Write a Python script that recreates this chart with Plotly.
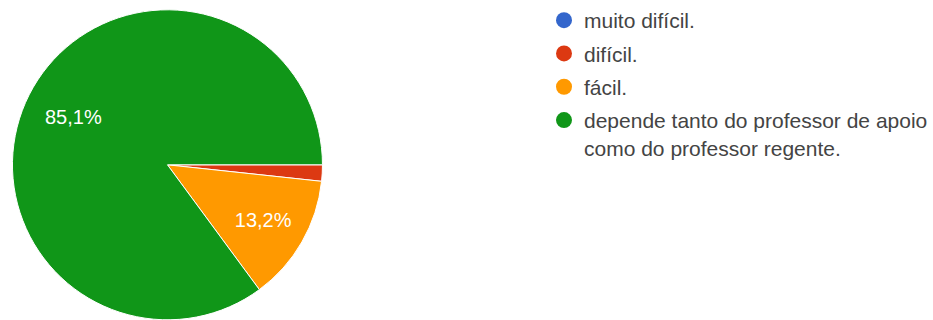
import math
import plotly.graph_objects as go

categories = [
    "muito difícil.",
    "difícil.",
    "fácil.",
    "depende tanto do professor de apoio<br>como do professor regente.",
]
values = [0.0, 1.7, 13.2, 85.1]
colors = ["#3366CC", "#DC3912", "#FF9900", "#109618"]
# which slices carry a percentage label, and whether plotly places it ("inside") or it
# is placed at the slice's mid-angle like the original chart ("midangle")
label_mode = [None, None, "inside", "midangle"]

W, H = 933, 320
dom_x = [12.5 / W, 323.5 / W]
dom_y = [0.0, 0.97]

fig = go.Figure()

fig.add_trace(go.Pie(
    labels=categories,
    values=values,
    sort=False,
    direction="clockwise",
    rotation=90,
    marker=dict(colors=colors, line=dict(color="#FFFFFF", width=1)),
    texttemplate=["%{percent:.1%}" if m == "inside" else "" for m in label_mode],
    textposition="inside",
    insidetextorientation="horizontal",
    textfont=dict(family="Liberation Sans, Arial, sans-serif", size=20, color="#FFFFFF"),
    domain=dict(x=dom_x, y=dom_y),
    showlegend=False,
    hoverinfo="label+percent",
))

# mid-angle labels derived from the data (angles measured clockwise from 3 o'clock)
total = sum(values)
cx_px = (dom_x[0] + dom_x[1]) / 2 * W
cy_px = (1 - (dom_y[0] + dom_y[1]) / 2) * H
radius_px = min((dom_x[1] - dom_x[0]) * W, (dom_y[1] - dom_y[0]) * H) / 2
cum = 0.0
for v, m in zip(values, label_mode):
    start = cum
    cum += v
    if m != "midangle":
        continue
    mid = math.radians((start + cum) / 2 / total * 360)
    px = cx_px + 0.68 * radius_px * math.cos(mid)
    py = cy_px + 0.68 * radius_px * math.sin(mid)
    pct = f"{v / total * 100:.1f}".replace(".", ",") + "%"
    fig.add_annotation(
        x=px / W, y=1 - py / H, xref="paper", yref="paper",
        text=pct, showarrow=False, xanchor="center", yanchor="middle",
        font=dict(family="Liberation Sans, Arial, sans-serif", size=20, color="#FFFFFF"),
    )

for i, (cat, col) in enumerate(zip(categories, colors)):
    fig.add_trace(go.Scatter(
        x=[None], y=[None], mode="markers", name=cat,
        marker=dict(symbol="circle", size=16, color=col),
        legendgroup=f"g{i}", showlegend=True, hoverinfo="skip",
    ))

fig.update_layout(
    width=W, height=H,
    margin=dict(l=0, r=0, t=0, b=0),
    paper_bgcolor="#FFFFFF", plot_bgcolor="#FFFFFF",
    separators=",.",
    xaxis=dict(visible=False), yaxis=dict(visible=False),
    legend=dict(
        x=546 / W, xanchor="left", y=1.0, yanchor="top",
        font=dict(family="Liberation Sans, Arial, sans-serif", size=21, color="#444444"),
        tracegroupgap=3, valign="top", bgcolor="rgba(0,0,0,0)",
        itemclick=False, itemdoubleclick=False,
    ),
)

fig.write_html("out.html")
